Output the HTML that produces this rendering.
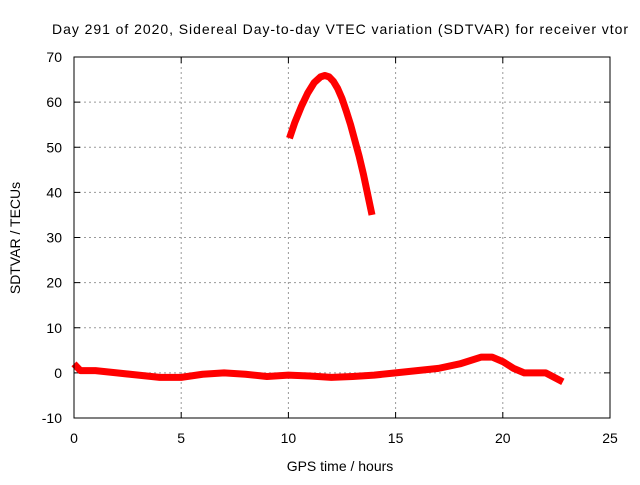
<!DOCTYPE html>
<html><head><meta charset="utf-8"><style>
body{margin:0;background:#fff}
svg{font-family:"Liberation Sans",sans-serif}
</style></head><body>
<svg id="c" width="640" height="480">
<rect width="640" height="480" fill="#fff"/>
<text x="52" y="34" font-size="14" textLength="576" lengthAdjust="spacing">Day 291 of 2020, Sidereal Day-to-day VTEC variation (SDTVAR) for receiver vtor</text>
<text x="340" y="471" font-size="14" text-anchor="middle">GPS time / hours</text>
<text transform="translate(20,238) rotate(-90)" font-size="14" text-anchor="middle">SDTVAR / TECUs</text>
<g id="grid"></g><g id="series"></g>
<rect x="74" y="57" width="536" height="361" fill="none" stroke="#000"/>
</svg>
<script>
const xTicks=[0,5,10,15,20,25];
const yTicks=[-10,0,10,20,30,40,50,60,70];
const baseHours=[0,0.3,1,2,3,4,5,6,7,8,9,10,11,12,13,14,15,16,17,18,19,19.5,20,20.5,21,22,22.8];
const baseVals=[2,0.5,0.5,0,-0.5,-1,-1,-0.3,0,-0.3,-0.8,-0.5,-0.7,-1,-0.8,-0.5,0,0.5,1,2,3.5,3.5,2.5,1,0,0,-2];
const peakHours=[10.05,10.3,10.6,10.9,11.2,11.5,11.7,11.9,12.1,12.3,12.5,12.7,12.9,13.1,13.3,13.5,13.7,13.9];
const peakVals=[52,55.5,59,62,64.3,65.6,65.9,65.6,64.6,63,60.8,58,55,51.5,48,44,39.5,35];
const X=v=>74+(v-0)/25*536, Y=v=>418-(v+10)/80*361;
const ns='http://www.w3.org/2000/svg';
const g=document.getElementById('grid'), s=document.getElementById('series');
function mk(t,a,p){const e=document.createElementNS(ns,t);for(const k in a)e.setAttribute(k,a[k]);p.appendChild(e);return e;}
xTicks.forEach(t=>{
 if(t>0&&t<25){const l=mk('line',{x1:X(t),x2:X(t),y1:57,y2:418,stroke:'#999','stroke-dasharray':'2,3'},g);
 
 }
 const tx=mk('text',{x:X(t),y:443,'font-size':14,'text-anchor':'middle'},g);tx.textContent=t;
 
 
 mk('line',{x1:X(t),x2:X(t),y1:418,y2:412,stroke:'#000'},g);mk('line',{x1:X(t),x2:X(t),y1:57,y2:63,stroke:'#000'},g);
});
yTicks.forEach(t=>{
 if(t>-10&&t<70){const l=mk('line',{x1:74,x2:610,y1:Y(t),y2:Y(t),stroke:'#999','stroke-dasharray':'2,3'},g);
 
 }
 const tx=mk('text',{x:62,y:Y(t)+5,'font-size':14,'text-anchor':'end'},g);tx.textContent=t;
 
 
 mk('line',{x1:74,x2:80,y1:Y(t),y2:Y(t),stroke:'#000'},g);mk('line',{x1:610,x2:604,y1:Y(t),y2:Y(t),stroke:'#000'},g);
});
function line(hs,vs,name){
 const p=mk('polyline',{points:hs.map((h,i)=>X(h)+','+Y(vs[i])).join(' '),fill:'none',stroke:'#f00','stroke-width':7,'stroke-linejoin':'round'},s);
 
 
}
line(baseHours,baseVals,'baseline-series');
line(peakHours,peakVals,'peak-series');
</script>
</body></html>
